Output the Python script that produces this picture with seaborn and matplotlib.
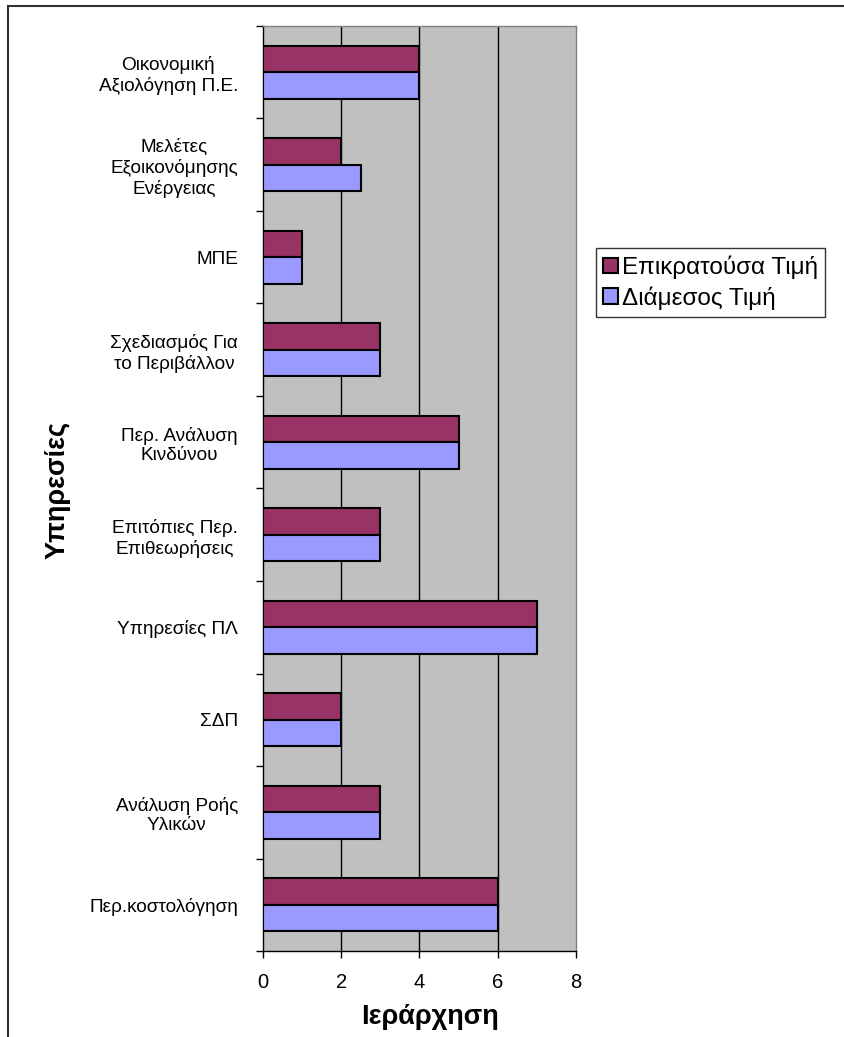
import pandas as pd
import matplotlib.pyplot as plt
import seaborn as sns
from matplotlib.patches import Patch, Rectangle

# Data
services = [
    'Οικονομική\nΑξιολόγηση Π.Ε.',
    'Μελέτες\nΕξοικονόμησης\nΕνέργειας',
    'ΜΠΕ',
    'Σχεδιασμός Για\nτο Περιβάλλον',
    'Περ. Ανάλυση\nΚινδύνου',
    'Επιτόπιες Περ.\nΕπιθεωρήσεις',
    'Υπηρεσίες ΠΛ',
    'ΣΔΠ',
    'Ανάλυση Ροής\nΥλικών',
    'Περ.κοστολόγηση',
]
mode_vals = [4, 2, 1, 3, 5, 3, 7, 2, 3, 6]
median_vals = [4, 2.5, 1, 3, 5, 3, 7, 2, 3, 6]
series = ['Επικρατούσα Τιμή', 'Διάμεσος Τιμή']
colors = ['#993366', '#9999FF']

df = pd.DataFrame({
    'Υπηρεσίες': services * 2,
    'Ιεράρχηση': mode_vals + median_vals,
    'Σειρά': [series[0]] * len(services) + [series[1]] * len(services),
})

sns.set_style('white')
plt.rcParams['font.family'] = ['Liberation Sans', 'DejaVu Sans']
plt.rcParams['text.color'] = 'black'
plt.rcParams['xtick.color'] = 'black'
plt.rcParams['ytick.color'] = 'black'
plt.rcParams['axes.labelcolor'] = 'black'

fig = plt.figure(figsize=(8.45, 10.37), dpi=100)
ax = fig.add_axes([263 / 845, 1 - 951 / 1037, (576 - 263) / 845, (951 - 26) / 1037])
ax.set_facecolor('#C0C0C0')

sns.barplot(data=df, y='Υπηρεσίες', x='Ιεράρχηση', hue='Σειρά', orient='h',
            palette=colors, saturation=1, width=0.57, edgecolor='black', linewidth=1.5,
            order=services, hue_order=series, legend=False, ax=ax, zorder=3)

ax.set_xlim(0, 8)
ax.set_ylim(len(services) - 0.5, -0.5)
ax.set_xticks([0, 2, 4, 6, 8])
ax.set_xticklabels(['0', '2', '4', '6', '8'], fontsize=14.5)
for x in [2, 4, 6]:
    ax.axvline(x, color='black', lw=1, zorder=1)

# category labels, tick marks between categories
ax.set_yticks(range(len(services)))
ax.set_yticklabels(services, fontsize=13.7, multialignment='center', linespacing=1.2)
ax.tick_params(axis='y', length=0, pad=18)
ax.set_yticks([i + 0.5 for i in range(-1, len(services))], minor=True)
ax.tick_params(axis='y', which='minor', length=5, width=1, color='black', direction='out', left=True)
ax.tick_params(axis='x', length=5, width=1, color='black', direction='out', bottom=True, pad=11)

for side in ['top', 'right']:
    ax.spines[side].set_color('#808080')
    ax.spines[side].set_linewidth(1)
for side in ['left', 'bottom']:
    ax.spines[side].set_color('black')
    ax.spines[side].set_linewidth(1)

ax.set_ylabel('')
ax.set_xlabel('')
fig.text(430 / 845, 1 - 1024 / 1037, 'Ιεράρχηση', fontsize=19.5, fontweight='bold',
         ha='center', va='baseline')
fig.text(58 / 845, 1 - 490 / 1037, 'Υπηρεσίες', rotation=90, fontsize=19.5,
         fontweight='bold', ha='center', va='center')

handles = [Patch(facecolor=c, edgecolor='black', lw=1.5, label=s) for c, s in zip(colors, series)]
leg = fig.legend(handles=handles, loc='upper left', bbox_to_anchor=(596 / 845, 1 - 248 / 1037),
                 fontsize=17.5, frameon=True, fancybox=False, handlelength=0.6, handleheight=0.6,
                 handletextpad=0.15, borderpad=0.3, labelspacing=0.3, borderaxespad=0)
leg.get_frame().set_edgecolor('black')
leg.get_frame().set_linewidth(1)

# outer chart border (cropped on right and bottom)
fig.patches.append(Rectangle((8 / 845, -0.05), 1.0, 1 - 6 / 1037 + 0.05, transform=fig.transFigure,
                             fill=False, edgecolor='#333333', lw=1.5))

fig.savefig('out.png', dpi=100)
